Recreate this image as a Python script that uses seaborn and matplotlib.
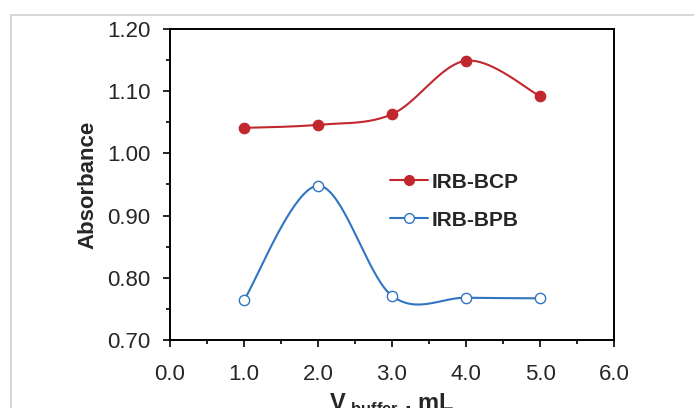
import numpy as np
import pandas as pd
import matplotlib.pyplot as plt
import seaborn as sns
from matplotlib.lines import Line2D
from matplotlib.patches import Rectangle
from matplotlib.ticker import MultipleLocator, FormatStrFormatter

# values
v_buffer = [1.0, 2.0, 3.0, 4.0, 5.0]
abs_bcp = [1.041, 1.046, 1.063, 1.149, 1.092]
abs_bpb = [0.764, 0.948, 0.771, 0.768, 0.767]

red = '#C1272D'
blue = '#2F75C1'

sns.set_style('ticks')
plt.rcParams['font.family'] = ['Liberation Sans', 'DejaVu Sans']
plt.rcParams['mathtext.fontset'] = 'custom'
plt.rcParams['mathtext.bf'] = 'Liberation Sans:bold'
plt.rcParams['mathtext.rm'] = 'Liberation Sans'


# Excel-style smoothed line (Catmull-Rom through the points)
def smooth(x, y, n=40):
    x = np.asarray(x, float)
    y = np.asarray(y, float)
    px = np.concatenate([[x[0]], x, [x[-1]]])
    py = np.concatenate([[y[0]], y, [y[-1]]])
    xs, ys = [], []
    t = np.linspace(0, 1, n)
    for i in range(1, len(px) - 2):
        p0, p1, p2, p3 = (np.array([px[j], py[j]]) for j in range(i - 1, i + 3))
        c1 = p1 + (p2 - p0) / 6
        c2 = p2 - (p3 - p1) / 6
        tt = t[:, None]
        pts = ((1 - tt) ** 3 * p1 + 3 * (1 - tt) ** 2 * tt * c1
               + 3 * (1 - tt) * tt ** 2 * c2 + tt ** 3 * p2)
        xs.extend(pts[:, 0])
        ys.extend(pts[:, 1])
    return np.array(xs), np.array(ys)


fig = plt.figure(figsize=(6.94, 4.08), dpi=100)
fig.patches.append(Rectangle((11 / 694, -0.1), 1.2, (408 - 15) / 408 + 0.1,
                             transform=fig.transFigure, fill=False,
                             edgecolor='#CFCFCF', linewidth=1.2))
ax = fig.add_axes([170 / 694, 68 / 408, 444 / 694, 311 / 408])

for yv, col, face in [(abs_bcp, red, red), (abs_bpb, blue, 'white')]:
    sx, sy = smooth(v_buffer, yv)
    ax.plot(sx, sy, color=col, linewidth=1.5, zorder=2)
    sns.scatterplot(x=v_buffer, y=yv, ax=ax, color=face, edgecolor=col,
                    linewidth=1.0, s=55, zorder=3, legend=False)

ax.set_xlim(0, 6)
ax.set_ylim(0.7, 1.2)
ax.xaxis.set_major_locator(MultipleLocator(1))
ax.xaxis.set_minor_locator(MultipleLocator(0.5))
ax.yaxis.set_major_locator(MultipleLocator(0.1))
ax.yaxis.set_minor_locator(MultipleLocator(0.05))
ax.xaxis.set_major_formatter(FormatStrFormatter('%.1f'))
ax.yaxis.set_major_formatter(FormatStrFormatter('%.2f'))
ax.tick_params(which='both', direction='out', color='black', width=1.2, labelsize=16)
ax.tick_params(which='major', length=5)
ax.tick_params(which='minor', length=3)
ax.tick_params(axis='y', which='major', pad=9)
ax.tick_params(axis='x', which='major', pad=12)
for s in ax.spines.values():
    s.set_visible(True)
    s.set_color('black')
    s.set_linewidth(1.4)

ax.set_ylabel('Absorbance', fontsize=16, fontweight='bold', labelpad=6)
ax.set_xlabel(r'$\mathbf{V}_{\mathbf{\ buffer}}$ , mL', fontsize=17,
              fontweight='bold', labelpad=5)

handles = [
    Line2D([], [], color=red, marker='o', markersize=7, markerfacecolor=red,
           markeredgecolor=red, linewidth=1.5),
    Line2D([], [], color=blue, marker='o', markersize=7, markerfacecolor='white',
           markeredgecolor=blue, linewidth=1.5),
]
ax.legend(handles, ['IRB-BCP', 'IRB-BPB'], loc='upper left',
          bbox_to_anchor=(0.454, 0.598), frameon=False, handlelength=1.8,
          handletextpad=0.2, labelspacing=0.9,
          prop={'weight': 'bold', 'size': 15})

fig.savefig('out.png', dpi=100)
